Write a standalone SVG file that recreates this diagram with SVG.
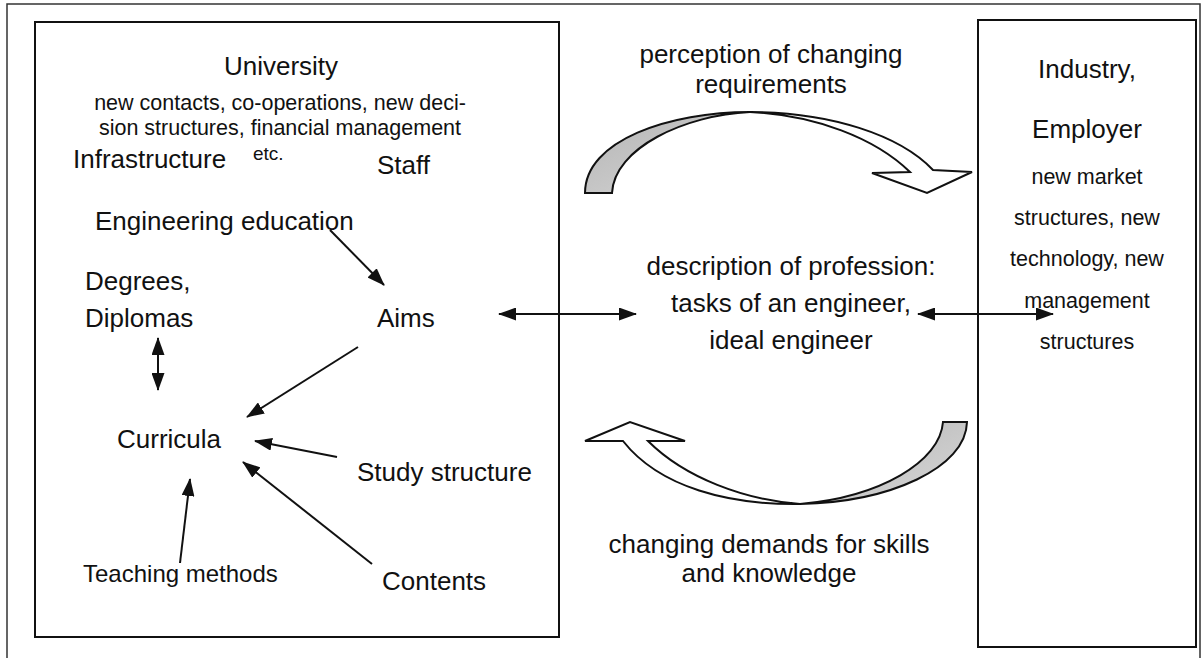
<svg xmlns="http://www.w3.org/2000/svg" width="1202" height="658" viewBox="0 0 1202 658">
<style>
text{font-family:"Liberation Sans",Arial,sans-serif;fill:#111}
.h{font-size:26px}
.s{font-size:21.5px}
.c{text-anchor:middle}
.box{fill:none;stroke:#111;stroke-width:2}
.ln{stroke:#111;stroke-width:2;fill:none}
.ribbon{stroke:#111;stroke-width:2;stroke-linejoin:miter}
</style>
<defs>
<marker id="ah" viewBox="0 0 18 13" markerWidth="18" markerHeight="13" refX="17" refY="6.5" orient="auto-start-reverse" markerUnits="userSpaceOnUse">
<path d="M0,0 L18,6.5 L0,13 z" fill="#111"/>
</marker>
<linearGradient id="gr" x1="0" y1="0" x2="1" y2="1">
<stop offset="0" stop-color="#b4b4b4"/>
<stop offset="1" stop-color="#d8d8d8"/>
</linearGradient>
</defs>
<rect width="1202" height="658" fill="#fff"/>
<path d="M7,658 V4 H1200 V658" fill="none" stroke="#333" stroke-width="1.5"/>

<g id="university">
<rect class="box" x="35" y="22" width="524" height="615"/>
<text class="h c" x="281" y="75">University</text>
<text class="s c" x="280" y="110">new contacts, co-operations, new deci-</text>
<text class="s c" x="280" y="135">sion structures, financial management</text>
<text x="253" y="160" font-size="19">etc.</text>
</g>
<g id="infrastructure"><text class="h" x="73" y="168">Infrastructure</text></g>
<g id="staff"><text class="h" x="377" y="174">Staff</text></g>
<g id="engineering-education"><text class="h" x="95" y="230">Engineering education</text></g>
<g id="degrees"><text class="h" x="85" y="290">Degrees,</text><text class="h" x="85" y="327">Diplomas</text></g>
<g id="aims"><text class="h" x="377" y="327">Aims</text></g>
<g id="curricula"><text class="h" x="117" y="448">Curricula</text></g>
<g id="study-structure"><text class="h" x="357" y="481">Study structure</text></g>
<g id="teaching-methods"><text x="83" y="582" font-size="24">Teaching methods</text></g>
<g id="contents"><text class="h" x="382" y="590">Contents</text></g>

<g id="profession">
<text class="h c" x="791" y="275">description of profession:</text>
<text class="h c" x="791" y="312">tasks of an engineer,</text>
<text class="h c" x="791" y="349">ideal engineer</text>
</g>

<g id="industry">
<rect class="box" x="978" y="20" width="218" height="627"/>
<text class="h c" x="1087" y="78">Industry,</text>
<text class="h c" x="1087" y="138">Employer</text>
<text class="s c" x="1087" y="184">new market</text>
<text class="s c" x="1087" y="225">structures, new</text>
<text class="s c" x="1087" y="266">technology, new</text>
<text class="s c" x="1087" y="308">management</text>
<text class="s c" x="1087" y="349">structures</text>
</g>

<g id="perception">
<text class="h c" x="771" y="63">perception of changing</text>
<text class="h c" x="771" y="93">requirements</text>
<path class="ribbon" fill="url(#gr)" d="M585,193 C585,140 670,112 750,112 C685,115 614,148 612,193 Z"/>
<path class="ribbon" fill="#fff" d="M750,112 C830,112 900,135 933,170 L972,172 L927,193 L872,173 L910,172 C875,138 815,115 750,112 Z"/>
</g>

<g id="demands">
<text class="h c" x="769" y="553">changing demands for skills</text>
<text class="h c" x="769" y="582">and knowledge</text>
<path class="ribbon" fill="#fff" d="M623,441 L585,441 L630,422 L685,441 L648,441 C685,478 745,500 800,504 C730,505 660,488 623,441 Z"/>
<path class="ribbon" fill="url(#gr)" d="M800,504 C890,502 966,468 967,422 L943,422 C940,462 880,497 800,504 Z"/>
</g>

<g id="connectors">
<line class="ln" x1="330" y1="230" x2="384" y2="285" marker-end="url(#ah)"/>
<line class="ln" x1="358" y1="347" x2="247" y2="417" marker-end="url(#ah)"/>
<line class="ln" x1="337" y1="457" x2="255" y2="441" marker-end="url(#ah)"/>
<line class="ln" x1="372" y1="564" x2="243" y2="462" marker-end="url(#ah)"/>
<line class="ln" x1="180" y1="563" x2="190" y2="479" marker-end="url(#ah)"/>
<line class="ln" x1="158" y1="338" x2="158" y2="390" marker-start="url(#ah)" marker-end="url(#ah)"/>
<line class="ln" x1="499" y1="314" x2="636" y2="314" marker-start="url(#ah)" marker-end="url(#ah)"/>
<line class="ln" x1="918" y1="314" x2="1053" y2="314" marker-start="url(#ah)" marker-end="url(#ah)"/>
</g>
</svg>
